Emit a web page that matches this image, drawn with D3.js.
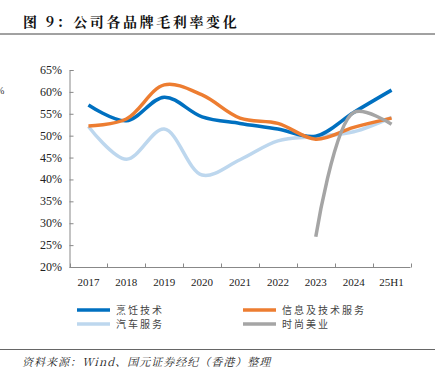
<!DOCTYPE html>
<html><head><meta charset="utf-8">
<script src="https://cdn.jsdelivr.net/npm/d3@7"></script>
<style>
body{margin:0;background:#fff;}
svg{display:block;}
</style></head>
<body>
<svg id="c" width="440" height="381"></svg>
<script>
const categories = ["2017","2018","2019","2020","2021","2022","2023","2024","25H1"];
const cooking   = [57.0,53.4,58.8,54.3,52.8,51.5,49.9,55.3,60.4];
const infoTech  = [52.2,53.8,61.6,59.3,54.0,52.8,49.2,51.9,54.0];
const autoSvc   = [52.1,44.6,51.5,41.0,44.5,48.8,49.8,50.9,54.2];
const fashion   = [null,null,null,null,null,null,26.9,55.3,52.6];
const yTicks = [20,25,30,35,40,45,50,55,60,65];
const seriesNames = ["烹饪技术","信息及技术服务","汽车服务","时尚美业"];
const seriesColors = ["#0070C0","#ED7D31","#BDD7EE","#A5A5A5"];

const svg = d3.select("#c");
const serif = "'Liberation Serif','Times New Roman',serif";
const cjk = "'Noto Sans CJK SC',sans-serif";

// title
svg.append("text").attr("x",23).attr("y",27).attr("font-family","'Noto Serif CJK SC','Noto Sans CJK SC',serif")
  .attr("font-weight","bold").attr("font-size",14).attr("letter-spacing",2.6).attr("fill","#111").text("图 9：公司各品牌毛利率变化");
svg.append("line").attr("x1",0).attr("x2",435).attr("y1",34).attr("y2",34).attr("stroke","#444").attr("stroke-width",1);

// stray % fragment
svg.append("text").attr("x",-4).attr("y",94).attr("font-family",serif).attr("font-size",10).attr("fill","#333").text("%");

const x = d3.scaleBand().domain(categories).range([69.5,410.5]);
const y = d3.scaleLinear().domain([20,65]).range([267,70]);

// y axis
const yAxis = svg.append("g").attr("transform","translate(69.5,0)")
  .call(d3.axisRight(y).tickValues(yTicks).tickSize(4).tickFormat(""));
yAxis.select(".domain").attr("stroke","#888").attr("d","M4,70.5H0.5V267");
yAxis.selectAll(".tick line").attr("stroke","#888");
svg.append("g").selectAll("text").data(yTicks).join("text")
  .attr("x",62).attr("y",d=>y(d)+4).attr("text-anchor","end")
  .attr("font-family",serif).attr("font-size",12).attr("fill","#222").text(d=>d+"%");

// x axis
const xAxis = svg.append("g").attr("transform","translate(0,267.5)")
  .call(d3.axisTop(x).tickSize(0).tickFormat(""));
xAxis.select(".domain").attr("stroke","#888").attr("d","M69.5,0H410.5");
const bounds = categories.map(c=>x(c)).concat([x.range()[1]]);
xAxis.selectAll(".bt").data(bounds).join("line").attr("class","bt")
  .attr("x1",d=>Math.round(d)+0.5).attr("x2",d=>Math.round(d)+0.5).attr("y1",0).attr("y2",-4).attr("stroke","#888");
svg.append("g").selectAll("text").data(categories).join("text")
  .attr("x",d=>x(d)+x.bandwidth()/2).attr("y",286).attr("text-anchor","middle")
  .attr("font-family",serif).attr("font-size",11).attr("fill","#222").text(d=>d);

// lines
const line = d3.line().defined(d=>d.v!=null)
  .x(d=>x(d.c)+x.bandwidth()/2).y(d=>y(d.v)).curve(d3.curveCatmullRom.alpha(0.5));
const allSeries = [cooking,infoTech,autoSvc,fashion];
const order = [2,0,1,3];
order.forEach(i=>{
  const pts = categories.map((c,j)=>({c,v:allSeries[i][j]}));
  svg.append("path").datum(pts).attr("d",line).attr("fill","none")
    .attr("stroke",seriesColors[i]).attr("stroke-width",3.5).attr("stroke-linecap","butt");
});

// legend
const leg = [[77,310],[243,310],[77,324],[243,324]];
seriesNames.forEach((n,i)=>{
  const [lx,ly] = leg[i];
  svg.append("line").attr("x1",lx).attr("x2",lx+33).attr("y1",ly).attr("y2",ly)
    .attr("stroke",seriesColors[i]).attr("stroke-width",3.5);
  svg.append("text").attr("x",lx+39).attr("y",ly+3.5).attr("font-family",cjk).attr("font-size",10)
    .attr("letter-spacing",2).attr("fill","#444").text(n);
});

svg.append("line").attr("x1",0).attr("x2",435).attr("y1",349.5).attr("y2",349.5).attr("stroke","#666").attr("stroke-width",1);
svg.append("text").attr("x",22).attr("y",366).attr("font-family","'Noto Serif CJK SC','Noto Sans CJK SC',serif")
  .attr("font-style","italic").attr("font-size",11).attr("letter-spacing",1).attr("fill","#222").text("资料来源：Wind、国元证券经纪（香港）整理");
</script>
</body></html>
